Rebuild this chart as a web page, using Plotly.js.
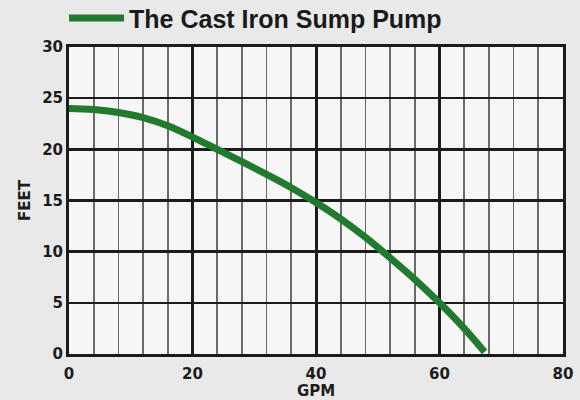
<!DOCTYPE html>
<html>
<head>
<meta charset="utf-8">
<script src="https://cdn.plot.ly/plotly-3.0.1.min.js"></script>
<style>
html,body{margin:0;padding:0;background:#e9e9e9;}
#chart{width:580px;height:400px;}
</style>
</head>
<body>
<div id="chart"></div>
<script>
const seriesName = "The Cast Iron Sump Pump";
const gpm  = [0, 4, 8, 12, 16, 20, 24, 28, 32, 36, 40, 44, 48, 52, 56, 60, 64, 67.3];
const feet = [24, 23.9, 23.6, 23.1, 22.3, 21.2, 20.0, 18.8, 17.55, 16.25, 14.8, 13.2, 11.4, 9.4, 7.3, 5.0, 2.5, 0.2];
const xTitle = "GPM";
const yTitle = "FEET";

const dark = "#1c1c1c";
const tickFamily = "DejaVu Sans, Verdana, sans-serif";
const trace = {
  x: gpm, y: feet, name: seriesName, type: "scatter", mode: "lines",
  line: {color: "#217a2e", width: 7, shape: "spline", smoothing: 1}
};

const layout = {
  width: 580, height: 400,
  margin: {l: 69, r: 17, t: 47, b: 46, autoexpand: false},
  paper_bgcolor: "#e9e9e9",
  plot_bgcolor: "#f6f6f6",
  font: {family: "Liberation Sans, Arial, sans-serif", color: dark},
  showlegend: true,
  legend: {
    orientation: "h", x: -0.01, xanchor: "left", y: 1.094, yanchor: "middle",
    font: {size: 25, weight: 700, color: "#1a1a1a", family: "Liberation Sans, Arial, sans-serif"},
    bgcolor: "rgba(0,0,0,0)", itemwidth: 55
  },
  xaxis: {
    range: [0, 80], dtick: 20, tick0: 0,
    showgrid: true, gridcolor: dark, gridwidth: 3,
    minor: {dtick: 4, showgrid: true, gridcolor: "#6a6a6a", gridwidth: 1.6},
    showline: true, mirror: true, linecolor: dark, linewidth: 3,
    zeroline: false, ticks: "", ticklabelstandoff: 4,
    tickfont: {size: 15, weight: 700, family: tickFamily},
    title: {text: xTitle, font: {size: 15, weight: 700, family: tickFamily}, standoff: 9}
  },
  yaxis: {
    range: [0, 30], dtick: 5, tick0: 0,
    showgrid: true, gridcolor: dark, gridwidth: 2.5,
    showline: true, mirror: true, linecolor: dark, linewidth: 3,
    zeroline: false, ticks: "",
    tickfont: {size: 15, weight: 700, family: tickFamily},
    title: {text: yTitle, font: {size: 15, weight: 700, family: tickFamily}, standoff: 8}
  }
};

Plotly.newPlot("chart", [trace], layout, {displayModeBar: false, staticPlot: true});
</script>
</body>
</html>
